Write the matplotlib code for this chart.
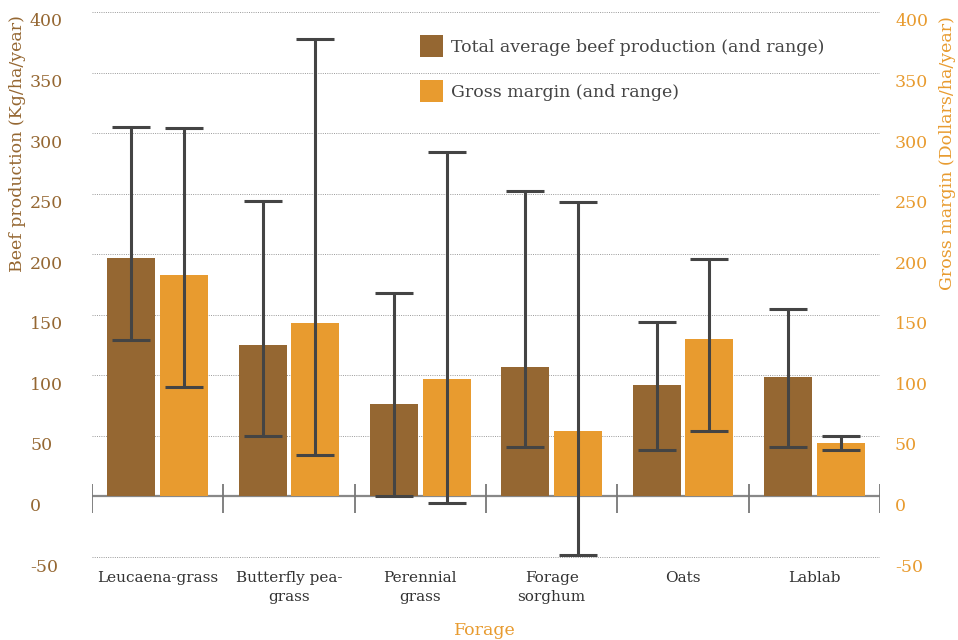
import numpy as np
import matplotlib; matplotlib.use("Agg")
import matplotlib.pyplot as plt
from matplotlib.patches import Patch
from matplotlib.transforms import blended_transform_factory, ScaledTranslation

forages = ["Leucaena-grass", "Butterfly pea-\ngrass", "Perennial\ngrass", "Forage\nsorghum", "Oats", "Lablab"]
beef_mean = [197, 125, 76, 107, 92, 99]
beef_low = [129, 50, 0, 41, 38, 41]
beef_high = [305, 244, 168, 252, 144, 155]
margin_mean = [183, 143, 97, 54, 130, 44]
margin_low = [90, 34, -5, -48, 54, 38]
margin_high = [304, 378, 284, 243, 196, 50]
yticks = [-50, 0, 50, 100, 150, 200, 250, 300, 350, 400]

BROWN = "#956732"; ORANGE = "#E89B2F"; DARK = "#444444"
plt.rcParams.update({"font.family": "DejaVu Serif"})

W, H = 958, 640
fig = plt.figure(figsize=(W/100, H/100), dpi=100)
# y: -50 -> px 557, 400 -> px 12 ; pad limits a bit so edge gridlines show
ppu = (557-12)/450.0
ylo, yhi = -55, 405
top_px = 12 - (yhi-400)*ppu; bot_px = 557 + (-50-ylo)*ppu
ax = fig.add_axes([92/W, 1-bot_px/H, (880-92)/W, (bot_px-top_px)/H])
ax.set_xlim(-0.5, 5.5); ax.set_ylim(ylo, yhi)
for s in ax.spines.values(): s.set_visible(False)
ax.set_xticks([]); ax.set_yticks([])

x = np.arange(len(forages))
off, bw = 0.2, 0.366
for v in yticks:
    if v != 0:
        ax.axhline(v, color="#9a9a9a", lw=0.7, ls=(0, (1, 1.3)), zorder=0)
ax.axhline(0, color="#888888", lw=1.6, zorder=1)
ax.vlines(np.arange(-0.5, 6), -13.5, 10, color="#777777", lw=1.3, zorder=1)

bm = np.array(beef_mean); mm = np.array(margin_mean)
ax.bar(x-off, bm, bw, color=BROWN, zorder=2)
ax.bar(x+off, mm, bw, color=ORANGE, zorder=2)
ax.errorbar(x-off, bm, yerr=[bm-np.array(beef_low), np.array(beef_high)-bm], fmt="none",
            ecolor=DARK, elinewidth=2.2, capsize=14, capthick=2.2, zorder=3)
ax.errorbar(x+off, mm, yerr=[mm-np.array(margin_low), np.array(margin_high)-mm], fmt="none",
            ecolor=DARK, elinewidth=2.2, capsize=14, capthick=2.2, zorder=3)

# tick labels sit just below their gridlines
tr = blended_transform_factory(fig.transFigure, ax.transData) + ScaledTranslation(0, -0.10, fig.dpi_scale_trans)
for v in yticks:
    ax.text(30/W, v, str(v), transform=tr, ha="left", va="center", color=BROWN, fontsize=12.5)
    ax.text(895/W, v, str(v), transform=tr, ha="left", va="center", color=ORANGE, fontsize=12.5)

trx = blended_transform_factory(ax.transData, fig.transFigure)
for i, name in enumerate(forages):
    ax.text(i, 1-571/H, name, transform=trx, ha="center", va="top", color="#333333",
            fontsize=11, linespacing=1.45)

fig.text(18/W, 1-15/H, "Beef production (Kg/ha/year)", rotation=90, ha="center", va="top",
         color=BROWN, fontsize=12.5)
fig.text(947/W, 1-290/H, "Gross margin (Dollars/ha/year)", rotation=90, ha="center", va="bottom",
         color=ORANGE, fontsize=12.5)
fig.text(485/W, 1-622/H, "Forage", ha="center", va="top", color=ORANGE, fontsize=12.5)

handles = [Patch(facecolor=BROWN, edgecolor="none"), Patch(facecolor=ORANGE, edgecolor="none")]
fig.legend(handles, ["Total average beef production (and range)", "Gross margin (and range)"],
           loc="upper left", bbox_to_anchor=(420/W, 1-35/H), frameon=False, fontsize=12.5,
           handlelength=1.33, handleheight=1.6, handletextpad=0.45, labelspacing=1.3,
           borderpad=0, borderaxespad=0, labelcolor="#444444")

fig.savefig("out.png", dpi=100)
